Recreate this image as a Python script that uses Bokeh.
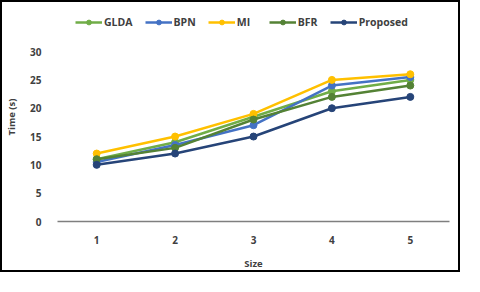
from bokeh.plotting import figure
from bokeh.models import Legend, LegendItem, Range1d, FixedTicker
from bokeh.embed import file_html
from bokeh.resources import INLINE

sizes = [1, 2, 3, 4, 5]
glda = [11, 14, 18.5, 23, 25]
bpn = [10.5, 13.5, 17, 24, 25.5]
mi = [12, 15, 19, 25, 26]
bfr = [11, 13, 18, 22, 24]
proposed = [10, 12, 15, 20, 22]
y_ticks = [0, 5, 10, 15, 20, 25, 30]

names = ["GLDA", "BPN", "MI", "BFR", "Proposed"]
colors = ["#70AD47", "#4472C4", "#FFC000", "#548235", "#264478"]
series = [glda, bpn, mi, bfr, proposed]

FONT = "Open Sans"
TXT = "#404040"

p = figure(width=460, height=272, output_backend="svg", toolbar_location=None,
           x_range=Range1d(0.5, 5.5), y_range=Range1d(0, 36.9),
           min_border_left=50, min_border_right=13, min_border_top=10, min_border_bottom=53)
p.outline_line_color = None
p.xgrid.visible = False
p.ygrid.visible = False
p.styles = {"border": "2px solid #000"}

items = []
for name, col, vals in zip(names, colors, series):
    r1 = p.line(sizes, vals, line_color=col, line_width=2.5)
    r2 = p.scatter(sizes, vals, fill_color=col, line_color=col, size=7)
    items.append(LegendItem(label=name, renderers=[r1, r2]))

legend = Legend(items=items, orientation="horizontal", location=(18, 192),
                label_text_font=FONT, label_text_font_style="bold",
                label_text_font_size="10.5px", label_text_color=TXT,
                glyph_width=27, glyph_height=12, spacing=12, padding=0,
                label_standoff=2, border_line_color=None, background_fill_alpha=0)
p.add_layout(legend, "center")

p.xaxis.ticker = FixedTicker(ticks=sizes)
p.yaxis.ticker = FixedTicker(ticks=y_ticks)
for ax in (p.xaxis[0], p.yaxis[0]):
    ax.major_tick_line_color = None
    ax.minor_tick_line_color = None
    ax.major_label_text_font = FONT
    ax.major_label_text_font_style = "bold"
    ax.major_label_text_font_size = "10px"
    ax.major_label_text_color = TXT
    ax.axis_label_text_font = FONT
    ax.axis_label_text_font_style = "bold"
    ax.axis_label_text_font_size = "9.5px"
    ax.axis_label_text_color = TXT
p.xaxis.axis_line_color = "#7f7f7f"
p.xaxis.axis_line_width = 1.5
p.yaxis.axis_line_color = None
p.xaxis.axis_label = "Size"
p.yaxis.axis_label = "Time (s)"
p.xaxis.major_label_standoff = 8
p.yaxis.major_label_standoff = 10
p.xaxis.axis_label_standoff = 10
p.yaxis.axis_label_standoff = 9

open("out.html", "w").write(file_html(p, INLINE))
